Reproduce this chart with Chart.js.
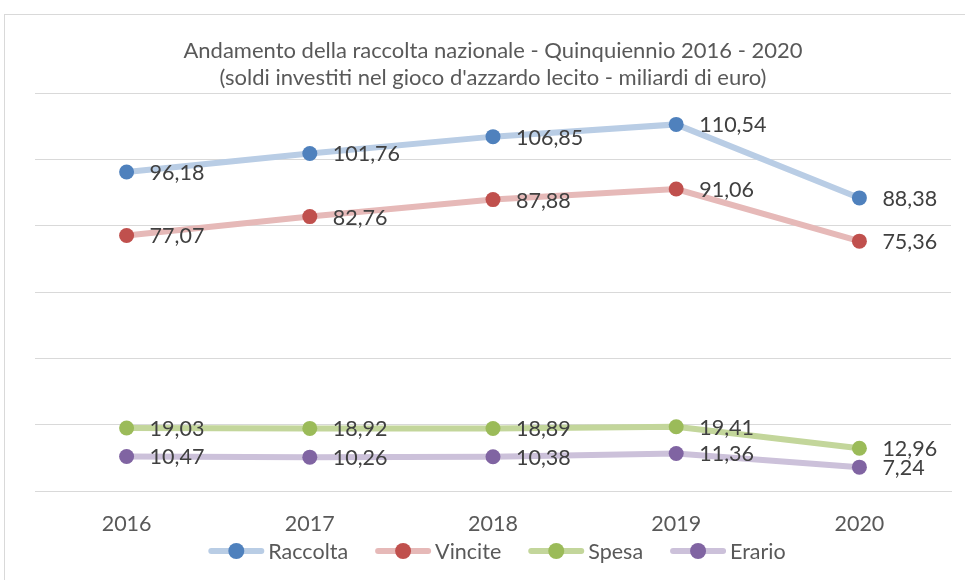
<!DOCTYPE html>
<html>
<head>
<meta charset="utf-8">
<script src="https://cdn.jsdelivr.net/npm/chart.js@4.4.1/dist/chart.umd.min.js"></script>
<style>
  body { margin: 0; background: #fff; }
  #wrap { position: relative; width: 965px; height: 580px; overflow: hidden; }
  #frame { position: absolute; left: 4px; top: 14px; width: 1000px; height: 600px; border: 1px solid #d9d9d9; }
  canvas { position: absolute; left: 0; top: 0; }
</style>
</head>
<body>
<div id="wrap">
  <div id="frame"></div>
  <canvas id="myChart" width="965" height="580"></canvas>
</div>
<script>
var years = ['2016', '2017', '2018', '2019', '2020'];
var raccolta = [96.18, 101.76, 106.85, 110.54, 88.38];
var vincite = [77.07, 82.76, 87.88, 91.06, 75.36];
var spesa = [19.03, 18.92, 18.89, 19.41, 12.96];
var erario = [10.47, 10.26, 10.38, 11.36, 7.24];
var titleLines = ['Andamento della raccolta nazionale - Quinquiennio 2016 - 2020',
                  "(soldi investiti nel gioco d'azzardo lecito - miliardi di euro)"];

var FONT = 'Lato, "Open Sans", sans-serif';

var series = [
    { label: 'Raccolta', data: raccolta, line: '#b9cde5', dot: '#4f81bd' },
    { label: 'Vincite', data: vincite, line: '#e6b9b8', dot: '#c0504d' },
    { label: 'Spesa', data: spesa, line: '#c3d69b', dot: '#9bbb59' },
    { label: 'Erario', data: erario, line: '#ccc1da', dot: '#8064a2' }
];

var datasets = series.map(function (s) {
    return {
        label: s.label,
        data: s.data,
        borderColor: s.line,
        backgroundColor: s.dot,
        pointBackgroundColor: s.dot,
        pointBorderColor: s.dot,
        pointRadius: 7.5,
        pointHoverRadius: 7.5,
        pointBorderWidth: 0,
        borderWidth: 6,
        fill: false,
        tension: 0
    };
});

// value labels to the right of every point
var valueLabels = {
    id: 'valueLabels',
    afterDatasetsDraw: function (chart) {
        var ctx = chart.ctx;
        ctx.save();
        ctx.font = '21.5px ' + FONT;
        ctx.fillStyle = '#404040';
        ctx.textAlign = 'left';
        ctx.textBaseline = 'middle';
        chart.data.datasets.forEach(function (ds, di) {
            var meta = chart.getDatasetMeta(di);
            meta.data.forEach(function (pt, i) {
                var txt = ds.data[i].toFixed(2).replace('.', ',');
                ctx.fillText(txt, pt.x + 23, pt.y + 1);
            });
        });
        ctx.restore();
    }
};

// excel style legend: line with dot, then the name
var lineLegend = {
    id: 'lineLegend',
    afterDraw: function (chart) {
        var ctx = chart.ctx;
        var iconW = 56, gapText = 4, gapItem = 27;
        var y = 551;
        ctx.save();
        ctx.font = '21.5px ' + FONT;
        var total = 0;
        chart.data.datasets.forEach(function (ds, i) {
            total += iconW + gapText + ctx.measureText(ds.label).width;
            if (i > 0) total += gapItem;
        });
        var x = (chart.chartArea.left + chart.chartArea.right) / 2 + 4 - total / 2;
        chart.data.datasets.forEach(function (ds) {
            ctx.strokeStyle = ds.borderColor;
            ctx.lineWidth = 6;
            ctx.lineCap = 'round';
            ctx.beginPath();
            ctx.moveTo(x + 3, y);
            ctx.lineTo(x + iconW - 3, y);
            ctx.stroke();
            ctx.fillStyle = ds.backgroundColor;
            ctx.beginPath();
            ctx.arc(x + iconW / 2, y, 8, 0, Math.PI * 2);
            ctx.fill();
            x += iconW + gapText;
            ctx.fillStyle = '#595959';
            ctx.textAlign = 'left';
            ctx.textBaseline = 'middle';
            ctx.fillText(ds.label, x, y + 1);
            x += ctx.measureText(ds.label).width + gapItem;
        });
        ctx.restore();
    }
};

var chart = new Chart(document.getElementById('myChart').getContext('2d'), {
    type: 'line',
    data: { labels: years, datasets: datasets },
    plugins: [valueLabels, lineLegend],
    options: {
        responsive: false,
        animation: false,
        layout: { padding: { left: 35, right: 14, top: 0, bottom: 31 } },
        plugins: {
            tooltip: { enabled: false },
            legend: { display: false },
            title: {
                display: true,
                text: titleLines,
                color: '#595959',
                font: { family: FONT, size: 22, weight: 'normal', lineHeight: 1.25 },
                padding: { top: 37, bottom: 1 }
            }
        },
        scales: {
            x: {
                offset: true,
                grid: { display: false },
                border: { color: '#d9d9d9' },
                ticks: { color: '#595959', font: { family: FONT, size: 21.5 }, padding: 12 }
            },
            y: {
                min: 0,
                max: 120,
                ticks: { display: false, stepSize: 20 },
                grid: { color: '#d9d9d9', drawTicks: false },
                border: { display: false },
                afterFit: function (s) { s.width = 0; }
            }
        }
    }
});
</script>
</body>
</html>
